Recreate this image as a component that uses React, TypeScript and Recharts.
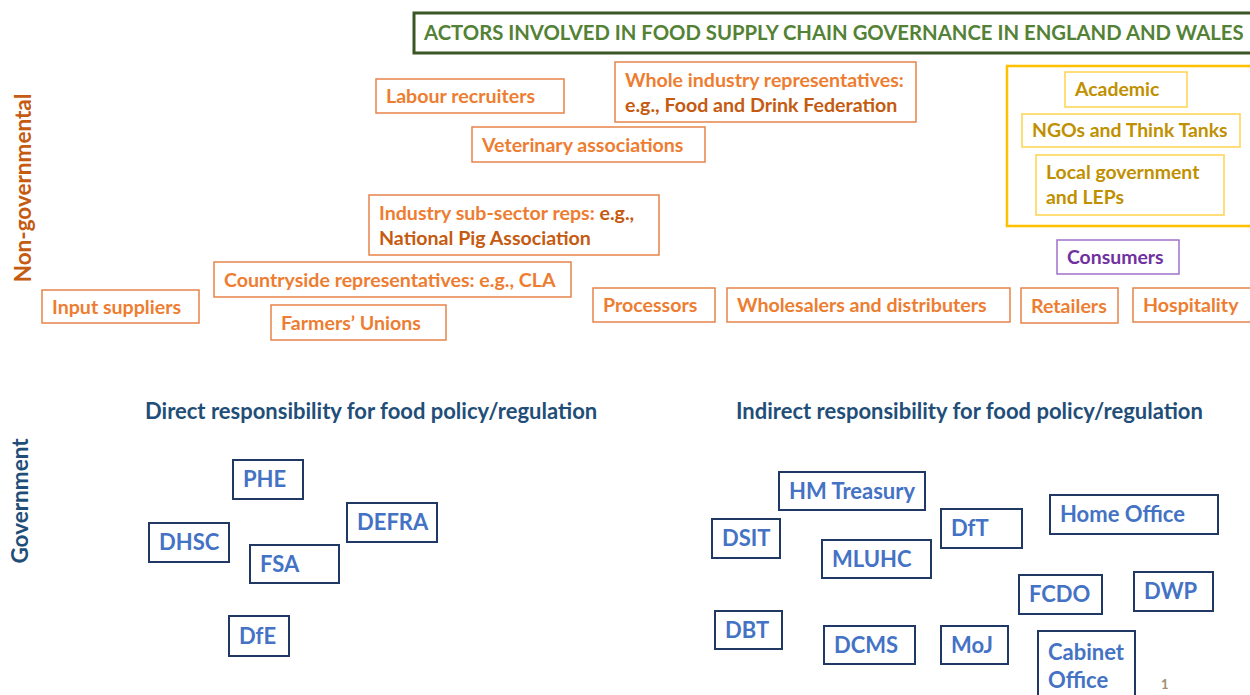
import React from "react";
import { ScatterChart, Scatter, XAxis, YAxis, ReferenceArea } from "recharts";

// slide space is 1250 x 695, boxes given as [left, right, top, bottom]
type Seg = { t: string; dark?: boolean };

const titleBox = { text: "ACTORS INVOLVED IN FOOD SUPPLY CHAIN GOVERNANCE IN ENGLAND AND WALES", box: [414, 1253, 13, 53] };

const supplyChainActors: { lines: Seg[][]; box: number[] }[] = [
  { lines: [[{ t: "Labour recruiters" }]], box: [376, 564, 79, 113] },
  { lines: [[{ t: "Whole industry representatives:" }], [{ t: "e.g., Food and Drink Federation", dark: true }]], box: [615, 916, 62, 122] },
  { lines: [[{ t: "Veterinary associations" }]], box: [472, 705, 127, 162] },
  { lines: [[{ t: "Industry sub-sector reps: " }, { t: "e.g.,", dark: true }], [{ t: "National Pig Association", dark: true }]], box: [369, 659, 195, 255] },
  { lines: [[{ t: "Countryside representatives: e.g., CLA" }]], box: [214, 571, 262, 297] },
  { lines: [[{ t: "Input suppliers" }]], box: [42, 199, 290, 323] },
  { lines: [[{ t: "Farmers\u2019 Unions" }]], box: [271, 446, 305, 340] },
  { lines: [[{ t: "Processors" }]], box: [593, 715, 288, 322] },
  { lines: [[{ t: "Wholesalers and distributers" }]], box: [727, 1010, 288, 322] },
  { lines: [[{ t: "Retailers" }]], box: [1021, 1118, 288, 323] },
  { lines: [[{ t: "Hospitality" }]], box: [1133, 1252, 288, 322] },
];

const civilGroupFrame = [1007, 1252, 66, 226];
const civilActors: { lines: Seg[][]; box: number[] }[] = [
  { lines: [[{ t: "Academic" }]], box: [1065, 1187, 72, 107] },
  { lines: [[{ t: "NGOs and Think Tanks" }]], box: [1022, 1240, 114, 147] },
  { lines: [[{ t: "Local government" }], [{ t: "and LEPs" }]], box: [1036, 1224, 155, 215] },
];

const consumerActor = { lines: [[{ t: "Consumers" }]], box: [1057, 1179, 240, 274] };

const directBodies: { lines: Seg[][]; box: number[] }[] = [
  { lines: [[{ t: "PHE" }]], box: [233, 303, 460, 499] },
  { lines: [[{ t: "DHSC" }]], box: [149, 229, 523, 562] },
  { lines: [[{ t: "FSA" }]], box: [250, 339, 545, 583] },
  { lines: [[{ t: "DEFRA" }]], box: [347, 437, 503, 542] },
  { lines: [[{ t: "DfE" }]], box: [229, 289, 616, 656] },
];

const indirectBodies: { lines: Seg[][]; box: number[] }[] = [
  { lines: [[{ t: "HM Treasury" }]], box: [779, 925, 472, 510] },
  { lines: [[{ t: "DSIT" }]], box: [712, 780, 519, 558] },
  { lines: [[{ t: "MLUHC" }]], box: [822, 931, 540, 578] },
  { lines: [[{ t: "DfT" }]], box: [941, 1022, 509, 548] },
  { lines: [[{ t: "Home Office" }]], box: [1050, 1218, 495, 534] },
  { lines: [[{ t: "FCDO" }]], box: [1019, 1102, 575, 614] },
  { lines: [[{ t: "DWP" }]], box: [1134, 1213, 572, 611] },
  { lines: [[{ t: "DBT" }]], box: [715, 782, 611, 649] },
  { lines: [[{ t: "DCMS" }]], box: [824, 915, 626, 664] },
  { lines: [[{ t: "MoJ" }]], box: [941, 1008, 626, 664] },
  { lines: [[{ t: "Cabinet" }], [{ t: "Office" }]], box: [1038, 1135, 631, 702] },
];

const headings = [
  { x: 22, y: 188, text: "Non-governmental", color: "#c55a11", rotate: true, size: 22.5 },
  { x: 19, y: 501, text: "Government", color: "#1f4e79", rotate: true, size: 22.5 },
  { x: 145, y: 411, text: "Direct responsibility for food policy/regulation", color: "#1f4e79", rotate: false, size: 22 },
  { x: 736, y: 411, text: "Indirect responsibility for food policy/regulation", color: "#1f4e79", rotate: false, size: 22 },
  { x: 1161, y: 684, text: "1", color: "#a09070", rotate: false, size: 13 },
];

const FONT = "Lato, 'Open Sans', sans-serif";

const BoxLabel = ({ viewBox, lines, color, darkColor, size, weight, gap }: any) => {
  if (!viewBox) return null;
  const { x, y, height } = viewBox;
  const mid = y + height / 2;
  const n = lines.length;
  return (
    <text fontFamily={FONT} fontSize={size} fontWeight={weight}>
      {lines.map((line: Seg[], i: number) => (
        <tspan key={i} x={x + 10} y={mid + (i - (n - 1) / 2) * gap + size * 0.36}>
          {line.map((s, j) => (
            <tspan key={j} fill={s.dark ? darkColor : color}>{s.t}</tspan>
          ))}
        </tspan>
      ))}
    </text>
  );
};

const renderBoxes = (
  items: { lines: Seg[][]; box: number[] }[],
  key: string,
  stroke: string,
  strokeWidth: number,
  color: string,
  darkColor: string,
  size: number,
  weight: number,
  gap: number
) =>
  items.map((a, i) => (
    <ReferenceArea
      key={`${key}-${i}`}
      x1={a.box[0]}
      x2={a.box[1]}
      y1={a.box[2]}
      y2={a.box[3]}
      ifOverflow="visible"
      fill="#ffffff"
      fillOpacity={1}
      stroke={stroke}
      strokeWidth={strokeWidth}
      label={(p: any) => (
        <BoxLabel viewBox={p.viewBox} lines={a.lines} color={color} darkColor={darkColor} size={size} weight={weight} gap={gap} />
      )}
    />
  ));

const HeadingShape = (props: any) => {
  const { cx, cy, payload } = props;
  if (payload.rotate) {
    return (
      <text
        x={cx}
        y={cy}
        transform={`rotate(-90 ${cx} ${cy})`}
        textAnchor="middle"
        dominantBaseline="central"
        fontFamily={FONT}
        fontWeight={700}
        fontSize={payload.size}
        fill={payload.color}
      >
        {payload.text}
      </text>
    );
  }
  return (
    <text x={cx} y={cy + payload.size * 0.36} fontFamily={FONT} fontWeight={700} fontSize={payload.size} fill={payload.color}>
      {payload.text}
    </text>
  );
};

export default function App() {
  return (
    <div style={{ position: "absolute", left: 0, top: 0, background: "#fff" }}>
      <ScatterChart width={1250} height={695} margin={{ top: 0, right: 0, bottom: 0, left: 0 }}>
        <XAxis type="number" dataKey="x" domain={[0, 1250]} hide />
        <YAxis type="number" dataKey="y" domain={[0, 695]} reversed hide />
        <ReferenceArea
          x1={titleBox.box[0]}
          x2={titleBox.box[1]}
          y1={titleBox.box[2]}
          y2={titleBox.box[3]}
          ifOverflow="visible"
          fill="#ffffff"
          stroke="#385723"
          strokeWidth={3}
          label={(p: any) => (
            <BoxLabel viewBox={p.viewBox} lines={[[{ t: titleBox.text }]]} color="#538135" darkColor="#538135" size={20.3} weight={700} gap={24} />
          )}
        />
        <ReferenceArea
          x1={civilGroupFrame[0]}
          x2={civilGroupFrame[1]}
          y1={civilGroupFrame[2]}
          y2={civilGroupFrame[3]}
          ifOverflow="visible"
          fill="#ffffff"
          stroke="#ffc000"
          strokeWidth={2.5}
        />
        {renderBoxes(supplyChainActors, "sc", "#e8834a", 1.5, "#ed7d31", "#c55a11", 19.6, 700, 25)}
        {renderBoxes(civilActors, "cv", "#ffd34d", 1.5, "#bf9000", "#bf9000", 19.4, 700, 25)}
        {renderBoxes([consumerActor], "cs", "#9e72c8", 1.5, "#7030a0", "#7030a0", 19.4, 700, 25)}
        {renderBoxes(directBodies, "db", "#203864", 2, "#4472c4", "#4472c4", 22, 700, 28)}
        {renderBoxes(indirectBodies, "ib", "#203864", 2, "#4472c4", "#4472c4", 22, 700, 28)}
        <Scatter data={headings} shape={<HeadingShape />} isAnimationActive={false} />
      </ScatterChart>
    </div>
  );
}
